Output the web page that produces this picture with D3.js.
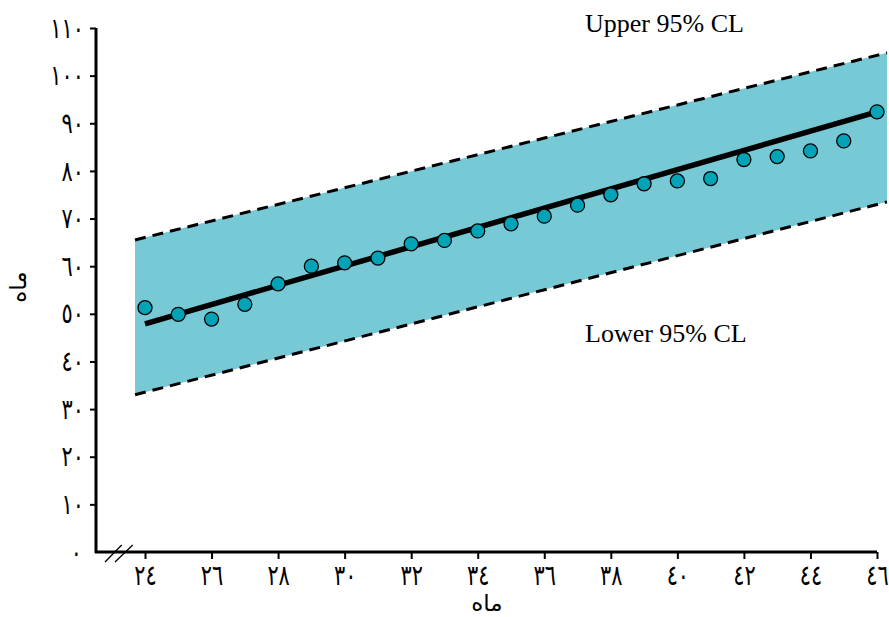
<!DOCTYPE html>
<html><head><meta charset="utf-8">
<script src="https://cdn.jsdelivr.net/npm/d3@7"></script>
<style>
body{margin:0;background:#fff;}
svg{display:block;}
.tick text{font-family:"DejaVu Sans",sans-serif;}
</style></head>
<body><svg id="c" width="889" height="617"></svg>
<script>
// Data
const months = [24,25,26,27,28,29,30,31,32,33,34,35,36,37,38,39,40,41,42,43,44,45,46];
const values = [51.3,49.9,48.9,52.0,56.3,60.0,60.7,61.7,64.7,65.4,67.4,68.9,70.5,72.8,75.0,77.3,77.9,78.4,82.4,83.0,84.2,86.3,92.4];
const fitX = [24,46];
const fitY = [47.9,92.4];
const bandX = [23.7,46.3];
const upperCL = [65.5,104.8];
const lowerCL = [33.0,73.5];
const yTicks = [0,10,20,30,40,50,60,70,80,90,100,110];
const yTickLabels = ["٠","١٠","٢٠","٣٠","٤٠","٥٠","٦٠","٧٠","٨٠","٩٠","١٠٠","١١٠"];
const xTicks = [24,26,28,30,32,34,36,38,40,42,44,46];
const xTickLabels = ["٢٤","٢٦","٢٨","٣٠","٣٢","٣٤","٣٦","٣٨","٤٠","٤٢","٤٤","٤٦"];
const xTitle = "ماه";
const yTitle = "ماه";
const upperLabel = "Upper 95% CL";
const lowerLabel = "Lower 95% CL";

const svg = d3.select("#c");
const x = d3.scaleLinear().domain([24,46]).range([145,877]);
const y = d3.scaleLinear().domain([0,110]).range([552,28]);

// band
const bandData = bandX.map((d,i)=>({x:d,lo:lowerCL[i],hi:upperCL[i]}));
svg.append("path").datum(bandData)
  .attr("d", d3.area().x(d=>x(d.x)).y0(d=>y(d.lo)).y1(d=>y(d.hi)))
  .attr("fill","#78c9d6");
[upperCL, lowerCL].forEach(arr=>{
  svg.append("path").datum(bandX.map((d,i)=>[d,arr[i]]))
    .attr("d", d3.line().x(d=>x(d[0])).y(d=>y(d[1])))
    .attr("stroke","#000").attr("stroke-width",3).attr("fill","none")
    .attr("stroke-dasharray","11,7");
});

// fit line
svg.append("path").datum(fitX.map((d,i)=>[d,fitY[i]]))
  .attr("d", d3.line().x(d=>x(d[0])).y(d=>y(d[1])))
  .attr("stroke","#000").attr("stroke-width",5.5).attr("fill","none");

// points
svg.selectAll("circle.pt").data(months.map((m,i)=>[m,values[i]])).enter()
  .append("circle").attr("class","pt")
  .attr("cx",d=>x(d[0])).attr("cy",d=>y(d[1])).attr("r",7)
  .attr("fill","#02a3b6").attr("stroke","#000").attr("stroke-width",1.3);

const STRETCH = "scale(0.95,1.3)";
// axes
const yAxis = d3.axisLeft(y).tickValues(yTicks).tickSize(6).tickPadding(6)
  .tickFormat(d=>yTickLabels[yTicks.indexOf(d)]);
const gy = svg.append("g").attr("transform","translate(96,0)").call(yAxis);
gy.select(".domain").attr("d","M0,553V28").attr("stroke-width",3);
gy.selectAll(".tick line").attr("stroke-width",2).filter(d=>d===0).remove();
gy.selectAll(".tick text").attr("font-size",22).attr("x",null).attr("dy","0.32em")
  .attr("transform",d=>`translate(${d===0?-14:-12},0) ${STRETCH}`);

const xAxis = d3.axisBottom(x).tickValues(xTicks).tickSize(7).tickPadding(6)
  .tickFormat(d=>xTickLabels[xTicks.indexOf(d)]);
const gx = svg.append("g").attr("transform","translate(0,552)").call(xAxis);
gx.select(".domain").attr("d","M95,0H877").attr("stroke-width",3);
gx.selectAll(".tick line").attr("stroke-width",2);
gx.selectAll(".tick text").attr("font-size",22).attr("y",null).attr("dy","0.71em")
  .attr("transform",`translate(0,13) ${STRETCH}`);

// axis break
[[105,121.7],[115,132.7]].forEach(p=>{
  svg.append("line").attr("x1",p[0]).attr("y1",562).attr("x2",p[1]).attr("y2",545)
    .attr("stroke","#000").attr("stroke-width",1.3);
});

// titles
svg.append("text").attr("x",487).attr("y",611).attr("text-anchor","middle")
  .attr("font-family","DejaVu Sans").attr("font-size",23).text(xTitle);
svg.append("text").attr("transform","translate(26,287) rotate(-90)").attr("text-anchor","middle")
  .attr("font-family","DejaVu Sans").attr("font-size",23).text(yTitle);

svg.append("text").attr("x",585).attr("y",31.5).attr("font-family","Liberation Serif")
  .attr("font-size",26).text(upperLabel);
svg.append("text").attr("x",585).attr("y",341.5).attr("font-family","Liberation Serif")
  .attr("font-size",26).text(lowerLabel);
</script></body></html>
